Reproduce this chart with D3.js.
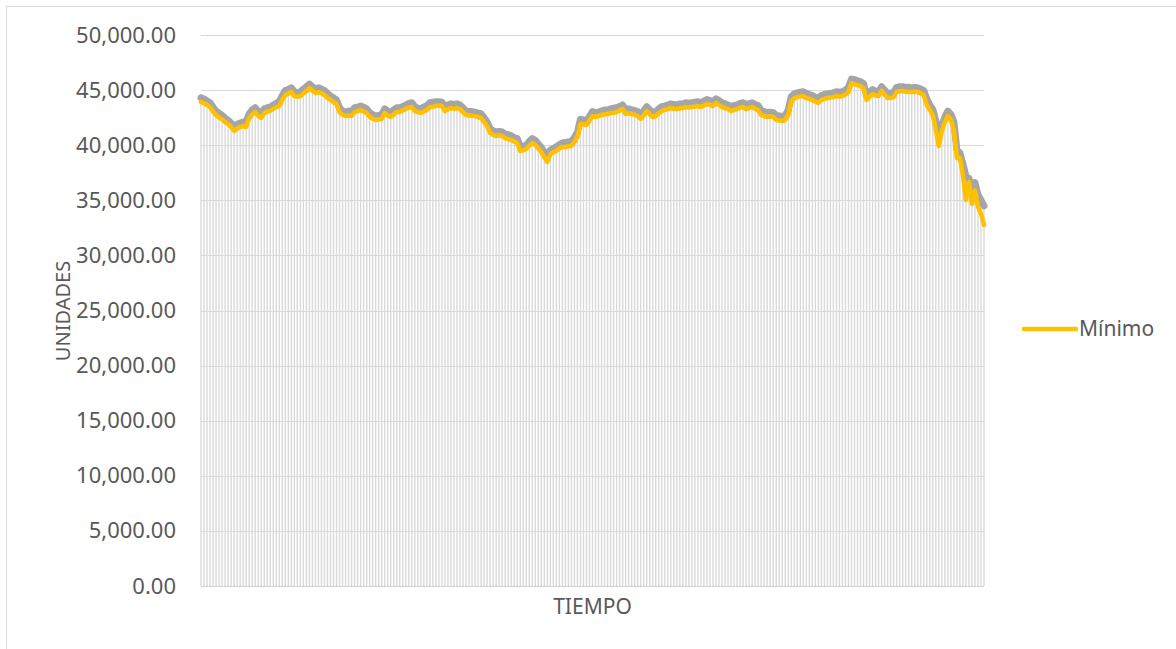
<!DOCTYPE html>
<html>
<head>
<meta charset="utf-8">
<script src="https://cdn.jsdelivr.net/npm/d3@7"></script>
<style>
  html, body { margin: 0; padding: 0; background: #ffffff; }
  svg { display: block; font-family: "Noto Sans", "Open Sans", sans-serif; }
</style>
</head>
<body>
<svg id="chart" width="1176" height="649"></svg>
<script>
// Daily low ("Mínimo") values, one per trading session
const minimo = [
  43920, 43800, 43650, 43460, 43050, 42740, 42500, 42350, 42100, 41900,
  41650, 41300, 41500, 41650, 41750, 41650, 42470, 42800, 43010, 42650,
  42470, 42920, 43050, 43100, 43300, 43460, 43550, 44100, 44550, 44700,
  44820, 44460, 44400, 44460, 44700, 44910, 45190, 44950, 44730, 44800,
  44730, 44550, 44300, 44100, 43900, 43740, 43010, 42750, 42650, 42700,
  42650, 43010, 43100, 43190, 43050, 42920, 42560, 42400, 42290, 42350,
  42380, 42920, 42700, 42560, 42800, 43010, 43010, 43150, 43280, 43400,
  43460, 43100, 43000, 42920, 43050, 43190, 43460, 43500, 43550, 43600,
  43550, 43100, 43250, 43370, 43300, 43370, 43280, 43000, 42740, 42700,
  42650, 42650, 42550, 42470, 42100, 41740, 41100, 40950, 40830, 40900,
  40830, 40650, 40550, 40470, 40350, 40200, 39470, 39550, 39650, 39950,
  40200, 40020, 39700, 39380, 38900, 38470, 39200, 39350, 39470, 39700,
  39840, 39840, 39900, 39930, 40300, 40740, 41920, 41900, 41830, 42200,
  42650, 42560, 42650, 42740, 42800, 42830, 42920, 42950, 43010, 43150,
  43280, 42830, 42900, 42830, 42750, 42650, 42380, 42700, 43100, 42800,
  42560, 42650, 42900, 43100, 43200, 43280, 43370, 43300, 43280, 43350,
  43370, 43460, 43420, 43460, 43500, 43550, 43460, 43600, 43740, 43650,
  43550, 43830, 43650, 43460, 43350, 43280, 43100, 43200, 43280, 43400,
  43460, 43280, 43380, 43460, 43300, 43190, 42740, 42650, 42560, 42600,
  42560, 42290, 42250, 42190, 42300, 42740, 44010, 44250, 44370, 44420,
  44460, 44280, 44200, 44100, 43950, 43830, 44100, 44200, 44280, 44320,
  44370, 44460, 44420, 44460, 44600, 44830, 45640, 45550, 45460, 45350,
  45190, 44100, 44400, 44640, 44500, 44460, 44920, 44600, 44280, 44300,
  44370, 44830, 44900, 44920, 44850, 44830, 44830, 44850, 44830, 44700,
  44550, 43650, 43200, 42740, 41380, 39930, 41290, 42100, 42650, 42300,
  41380, 38840, 38840, 37290, 35030, 36660, 34660, 35900, 34400, 33800,
  32760
];

// Daily high values for the same sessions
const maximo = [
  44300, 44200, 44000, 43850, 43450, 43100, 42900, 42700, 42450, 42250,
  42000, 41700, 41900, 42000, 42100, 42100, 42850, 43200, 43400, 43050,
  42850, 43300, 43400, 43450, 43650, 43800, 43950, 44500, 44950, 45050,
  45200, 44850, 44750, 44850, 45100, 45300, 45550, 45300, 45100, 45200,
  45100, 44950, 44700, 44450, 44300, 44100, 43400, 43100, 43000, 43100,
  43050, 43400, 43450, 43550, 43450, 43300, 42950, 42750, 42650, 42700,
  42800, 43300, 43100, 42950, 43200, 43400, 43400, 43500, 43650, 43800,
  43850, 43500, 43350, 43300, 43450, 43600, 43850, 43900, 43950, 43950,
  43900, 43500, 43650, 43750, 43700, 43750, 43650, 43400, 43100, 43050,
  43050, 43000, 42900, 42850, 42500, 42100, 41500, 41300, 41200, 41250,
  41200, 41000, 40950, 40850, 40700, 40600, 39900, 39900, 40000, 40350,
  40600, 40450, 40100, 39800, 39350, 38900, 39550, 39700, 39850, 40050,
  40200, 40250, 40300, 40350, 40700, 41200, 42350, 42300, 42200, 42600,
  43050, 42950, 43000, 43100, 43200, 43200, 43300, 43350, 43400, 43500,
  43650, 43250, 43300, 43200, 43150, 43050, 42800, 43100, 43500, 43200,
  42950, 43050, 43300, 43500, 43550, 43650, 43750, 43700, 43650, 43750,
  43750, 43850, 43800, 43850, 43900, 43950, 43850, 44000, 44150, 44050,
  43950, 44200, 44050, 43850, 43750, 43650, 43500, 43600, 43650, 43800,
  43850, 43700, 43750, 43850, 43700, 43600, 43150, 43050, 42950, 43000,
  42950, 42700, 42650, 42600, 42700, 43200, 44400, 44650, 44750, 44800,
  44850, 44700, 44600, 44500, 44350, 44250, 44500, 44600, 44650, 44700,
  44750, 44850, 44800, 44850, 45000, 45250, 46000, 45950, 45850, 45750,
  45600, 44550, 44800, 45050, 44900, 44850, 45300, 45000, 44700, 44700,
  44800, 45250, 45300, 45300, 45250, 45250, 45200, 45250, 45200, 45100,
  44950, 44200, 43650, 43250, 42200, 41000, 41800, 42550, 43100, 42800,
  42100, 39600, 39300, 38300, 37200, 37000, 35800, 36600, 35500, 35000,
  34500
];

// Session index along the time axis
const sesiones = minimo.map((_, i) => i + 1);

// Value axis ticks
const yTicks = [0, 5000, 10000, 15000, 20000, 25000, 30000, 35000, 40000, 45000, 50000];

const svg = d3.select("#chart");
const W = 1176, H = 649;
const plot = { left: 201, right: 984, top: 35, bottom: 586 };
const textColor = "#595959";
const gridColor = "#d9d9d9";

// Outer chart frame
svg.append("rect")
  .attr("x", 6.5).attr("y", 6.5)
  .attr("width", W + 50).attr("height", H + 50)
  .attr("fill", "#ffffff")
  .attr("stroke", gridColor).attr("stroke-width", 1);

const x = d3.scalePoint()
  .domain(sesiones)
  .range([plot.left, plot.right]);

const y = d3.scaleLinear()
  .domain([0, 50000])
  .range([plot.bottom, plot.top]);

// Horizontal gridlines
svg.append("g")
  .selectAll("line")
  .data(yTicks)
  .join("line")
  .attr("x1", plot.left).attr("x2", plot.right)
  .attr("y1", d => Math.round(y(d)) + 0.5)
  .attr("y2", d => Math.round(y(d)) + 0.5)
  .attr("stroke", gridColor)
  .attr("stroke-width", 1);

// Drop lines from each session's high down to zero
svg.append("g")
  .selectAll("line")
  .data(sesiones)
  .join("line")
  .attr("x1", d => x(d)).attr("x2", d => x(d))
  .attr("y1", (d, i) => y(maximo[i]))
  .attr("y2", y(0))
  .attr("stroke", "#d9d9d9")
  .attr("stroke-width", 1.4);

// Category axis baseline
svg.append("line")
  .attr("x1", plot.left).attr("x2", plot.right)
  .attr("y1", Math.round(y(0)) + 0.5).attr("y2", Math.round(y(0)) + 0.5)
  .attr("stroke", "#d0d0d0").attr("stroke-width", 1);

// Value axis labels
const yAxis = d3.axisLeft(y)
  .tickValues(yTicks)
  .tickSize(0)
  .tickPadding(25)
  .tickFormat(d3.format(",.2f"));

const gy = svg.append("g")
  .attr("transform", `translate(${plot.left},0)`)
  .call(yAxis);
gy.select(".domain").remove();
gy.selectAll("text")
  .attr("fill", textColor)
  .style("font-size", "22px")
  .style("font-family", "'Noto Sans', sans-serif");

// Series lines
const seriesLine = d3.line()
  .x((d, i) => x(sesiones[i]))
  .y(d => y(d));

svg.append("path")
  .datum(maximo)
  .attr("d", seriesLine)
  .attr("fill", "none")
  .attr("stroke", "#a5a5a5")
  .attr("stroke-width", 7)
  .attr("stroke-linejoin", "round")
  .attr("stroke-linecap", "round");

svg.append("path")
  .datum(minimo)
  .attr("d", seriesLine)
  .attr("fill", "none")
  .attr("stroke", "#ffc000")
  .attr("stroke-width", 4.5)
  .attr("stroke-linejoin", "round")
  .attr("stroke-linecap", "round");

// Axis titles
svg.append("text")
  .attr("x", (plot.left + plot.right) / 2)
  .attr("y", 614)
  .attr("text-anchor", "middle")
  .attr("fill", textColor)
  .style("font-size", "21px")
  .text("TIEMPO");

svg.append("text")
  .attr("transform", "translate(70,311) rotate(-90)")
  .attr("text-anchor", "middle")
  .attr("fill", textColor)
  .style("font-size", "20px")
  .text("UNIDADES");

// Legend
const legend = svg.append("g");
legend.append("line")
  .attr("x1", 1024).attr("x2", 1076)
  .attr("y1", 329).attr("y2", 329)
  .attr("stroke", "#ffc000").attr("stroke-width", 4.5)
  .attr("stroke-linecap", "round");
legend.append("text")
  .attr("x", 1079).attr("y", 329)
  .attr("dy", "0.35em")
  .attr("fill", textColor)
  .style("font-size", "21px")
  .text("Mínimo");
</script>
</body>
</html>
